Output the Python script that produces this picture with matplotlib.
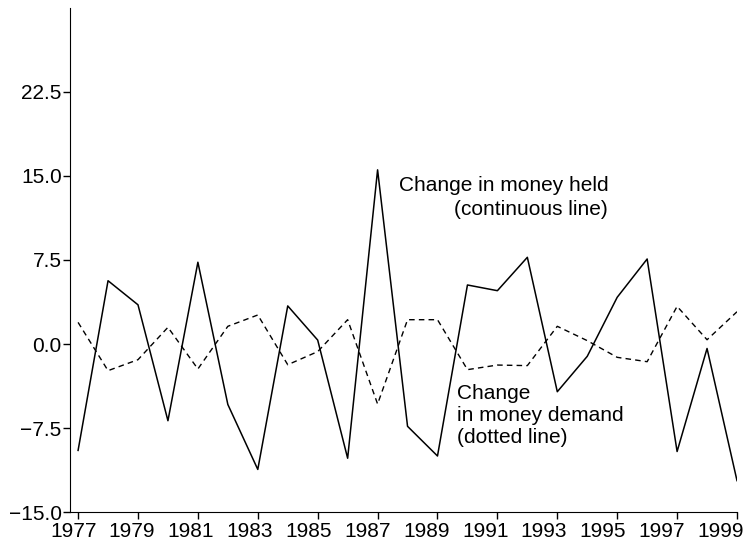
import matplotlib
matplotlib.use("Agg")
import matplotlib.pyplot as plt
import matplotlib.transforms as mtransforms
import numpy as np

plt.rcParams['font.family'] = ['Liberation Sans', 'DejaVu Sans']

years = np.arange(1977, 2000)
money_held = [-9.5, 5.65, 3.5, -6.85, 7.3, -5.4, -11.2, 3.4, 0.35, -10.2,
              15.55, -7.35, -10.0, 5.27, 4.76, 7.74, -4.26, -1.1, 4.17, 7.59,
              -9.6, -0.4, -12.2]
money_demand = [1.93, -2.38, -1.4, 1.49, -2.23, 1.58, 2.59, -1.85, -0.68, 2.17,
                -5.36, 2.17, 2.17, -2.29, -1.88, -1.93, 1.58, 0.3, -1.19, -1.58,
                3.36, 0.38, 2.88]
y_ticks = [-15.0, -7.5, 0.0, 7.5, 15.0, 22.5]
x_ticks = list(range(1977, 2000, 2))

fig = plt.figure(figsize=(7.53, 5.47), dpi=100)
ax = fig.add_axes([70 / 753, 1 - 512 / 547, (737 - 70) / 753, (512 - 8) / 547])

ax.plot(years, money_held, color='black', linewidth=1.1)
ax.plot(years, money_demand, color='black', linewidth=1.0, linestyle=(0, (4, 3)))

ax.set_xlim(1976.73, 1999)
ax.set_ylim(-15, 30)
ax.set_xticks(x_ticks)
ax.set_yticks(y_ticks)
ax.set_yticklabels([f"{v:.1f}".replace('-', '\u2212') for v in y_ticks])
ax.tick_params(labelsize=15, length=5, width=1, pad=2)
ax.tick_params(axis='y', pad=1)
ax.spines[['top', 'right']].set_visible(False)

# year labels in the original sit a little left of their ticks, more so to the right
for lab, yr in zip(ax.get_xticklabels(), x_ticks):
    shift = -(3.5 + (yr - 1977) * 0.38) / 72
    lab.set_transform(lab.get_transform() + mtransforms.ScaledTranslation(shift, 0, fig.dpi_scale_trans))

ax.text(1994.7, 13.1, "Change in money held\n(continuous line)", ha='right', va='center',
        fontsize=15, multialignment='right', linespacing=1.3)
ax.text(1989.65, -6.34, "Change\nin money demand\n(dotted line)", ha='left', va='center',
        fontsize=15, multialignment='left', linespacing=1.2)

fig.savefig("out.png", dpi=100)
